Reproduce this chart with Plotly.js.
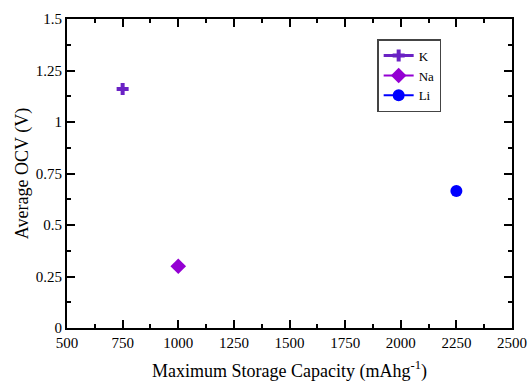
<!DOCTYPE html>
<html>
<head>
<meta charset="utf-8">
<script src="https://cdn.plot.ly/plotly-3.0.1.min.js"></script>
<style>html,body{margin:0;padding:0;background:#fff;}#chart{width:530px;height:383px;}</style>
</head>
<body>
<div id="chart"></div>
<script>
const seriesNames = ["K", "Na", "Li"];
const capacityK = [750];
const ocvK = [1.16];
const capacityNa = [1000];
const ocvNa = [0.3];
const capacityLi = [2250];
const ocvLi = [0.665];
const xTickVals = [500, 750, 1000, 1250, 1500, 1750, 2000, 2250, 2500];
const yTickVals = [0, 0.25, 0.5, 0.75, 1, 1.25, 1.5];
const yTickText = ["0", "0.25", "0.5", "0.75", "1", "1.25", "1.5"];

const serif = '"Liberation Serif", "Times New Roman", serif';

const traces = [
  {x: capacityK, y: ocvK, name: seriesNames[0], type: 'scatter', mode: 'lines+markers',
   line: {color: '#6a22c4', width: 3},
   marker: {symbol: 'cross', size: 10, color: '#6a22c4'}},
  {x: capacityNa, y: ocvNa, name: seriesNames[1], type: 'scatter', mode: 'lines+markers',
   line: {color: '#9400d3', width: 2},
   marker: {symbol: 'diamond', size: 12, color: '#9400d3'}},
  {x: capacityLi, y: ocvLi, name: seriesNames[2], type: 'scatter', mode: 'lines+markers',
   line: {color: '#0000ff', width: 2},
   marker: {symbol: 'circle', size: 12, color: '#0000ff'}}
];

const axisCommon = {
  showgrid: false, zeroline: false, showline: true, linecolor: '#000', linewidth: 2,
  mirror: 'allticks', ticks: 'inside', ticklen: 8, tickwidth: 2, tickcolor: '#000',
  tickfont: {family: serif, size: 15, color: '#000'}
};

const layout = {
  width: 530, height: 383,
  font: {family: serif},
  margin: {l: 67, r: 18, t: 19, b: 55},
  paper_bgcolor: '#fff', plot_bgcolor: '#fff',
  showlegend: true,
  legend: {x: 0.697, y: 0.935, xanchor: 'left', yanchor: 'top',
    bordercolor: '#444', borderwidth: 1.5, bgcolor: '#fff',
    font: {family: serif, size: 13, color: '#000'},
    itemwidth: 30, tracegroupgap: 0},
  xaxis: Object.assign({}, axisCommon, {
    range: [500, 2500], tickvals: xTickVals,
    minor: {dtick: 125, tick0: 500, ticks: 'inside', ticklen: 4, tickwidth: 2, tickcolor: '#000'},
    title: {text: 'Maximum Storage Capacity (mAhg<sup>-1</sup>)', standoff: 14,
      font: {family: serif, size: 18, color: '#000'}}
  }),
  yaxis: Object.assign({}, axisCommon, {
    range: [0, 1.5], tickvals: yTickVals, ticktext: yTickText,
    minor: {dtick: 0.125, tick0: 0, ticks: 'inside', ticklen: 4, tickwidth: 2, tickcolor: '#000'},
    title: {text: 'Average OCV (V)', standoff: 2,
      font: {family: serif, size: 18, color: '#000'}}
  })
};

Plotly.newPlot('chart', traces, layout, {displayModeBar: false, staticPlot: true});
</script>
</body>
</html>
